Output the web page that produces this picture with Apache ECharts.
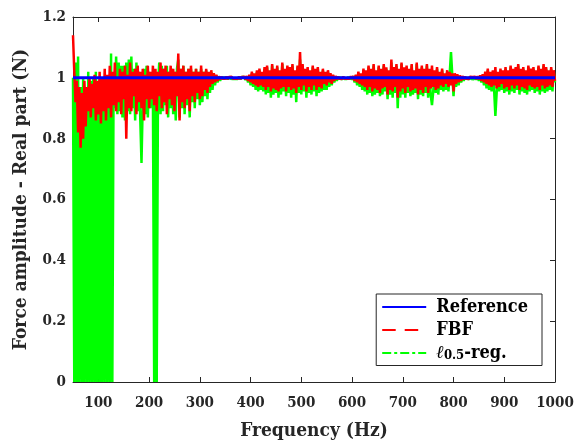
<!DOCTYPE html>
<html>
<head>
<meta charset="utf-8">
<script src="https://cdn.jsdelivr.net/npm/echarts@6/dist/echarts.min.js"></script>
<style>
html,body{margin:0;padding:0;background:#fff;}
#chart{width:583px;height:447px;}
</style>
</head>
<body>
<div id="chart"></div>
<script>
// ---- data ----
const freq = [
50,52.5,55,57.5,60,62.5,65,67.5,70,72.5,75,77.5,80,82.5,85,87.5,90,92.5,95,97.5,
100,102.5,105,107.5,110,112.5,115,117.5,120,122.5,125,127.5,130,132.5,135,137.5,140,142.5,145,147.5,
150,152.5,155,157.5,160,162.5,165,167.5,170,172.5,175,177.5,180,182.5,185,187.5,190,192.5,195,197.5,
200,202.5,205,207.5,210,212.5,215,217.5,220,222.5,225,227.5,230,232.5,235,237.5,240,242.5,245,247.5,
250,252.5,255,257.5,260,262.5,265,267.5,270,272.5,275,277.5,280,282.5,285,287.5,290,292.5,295,297.5,
300,302.5,305,307.5,310,312.5,315,317.5,320,322.5,325,327.5,330,332.5,335,337.5,340,342.5,345,347.5,
350,352.5,355,357.5,360,362.5,365,367.5,370,372.5,375,377.5,380,382.5,385,387.5,390,392.5,395,397.5,
400,402.5,405,407.5,410,412.5,415,417.5,420,422.5,425,427.5,430,432.5,435,437.5,440,442.5,445,447.5,
450,452.5,455,457.5,460,462.5,465,467.5,470,472.5,475,477.5,480,482.5,485,487.5,490,492.5,495,497.5,
500,502.5,505,507.5,510,512.5,515,517.5,520,522.5,525,527.5,530,532.5,535,537.5,540,542.5,545,547.5,
550,552.5,555,557.5,560,562.5,565,567.5,570,572.5,575,577.5,580,582.5,585,587.5,590,592.5,595,597.5,
600,602.5,605,607.5,610,612.5,615,617.5,620,622.5,625,627.5,630,632.5,635,637.5,640,642.5,645,647.5,
650,652.5,655,657.5,660,662.5,665,667.5,670,672.5,675,677.5,680,682.5,685,687.5,690,692.5,695,697.5,
700,702.5,705,707.5,710,712.5,715,717.5,720,722.5,725,727.5,730,732.5,735,737.5,740,742.5,745,747.5,
750,752.5,755,757.5,760,762.5,765,767.5,770,772.5,775,777.5,780,782.5,785,787.5,790,792.5,795,797.5,
800,802.5,805,807.5,810,812.5,815,817.5,820,822.5,825,827.5,830,832.5,835,837.5,840,842.5,845,847.5,
850,852.5,855,857.5,860,862.5,865,867.5,870,872.5,875,877.5,880,882.5,885,887.5,890,892.5,895,897.5,
900,902.5,905,907.5,910,912.5,915,917.5,920,922.5,925,927.5,930,932.5,935,937.5,940,942.5,945,947.5,
950,952.5,955,957.5,960,962.5,965,967.5,970,972.5,975,977.5,980,982.5,985,987.5,990,992.5,995,997.5,
1000
];

const refFreq = [50, 1000];
const refValues = [1, 1];

const fbfValues = [
1.14,1.02,0.92,0.99,0.82,0.97,0.77,0.95,0.80,0.99,0.84,0.97,0.89,1.00,0.87,0.98,0.90,1.01,0.86,0.99,
0.88,1.02,0.85,1.00,0.89,1.03,0.86,1.01,0.90,1.04,0.87,1.02,0.91,1.05,0.89,1.00,0.92,1.03,0.88,1.02,
0.93,1.04,0.80,1.01,0.90,1.05,0.89,1.02,0.94,1.03,0.88,1.04,0.92,1.02,0.90,1.03,0.86,1.01,0.93,1.04,
0.90,1.02,0.93,1.04,0.91,1.03,0.89,1.02,0.94,1.05,0.90,1.03,0.92,1.04,0.88,1.02,0.93,1.04,0.91,1.03,
0.89,1.02,0.94,1.08,0.86,1.03,0.92,1.04,0.90,1.02,0.93,1.03,0.89,1.04,0.94,1.02,0.92,1.03,0.95,1.02,
0.93,1.04,0.94,1.02,0.96,1.03,0.95,1.02,0.97,1.025,0.98,1.015,0.985,1.01,0.99,1.005,0.995,1.004,0.997,1.003,
0.997,1.004,0.996,1.003,0.998,1.004,0.997,1.003,0.998,1.002,0.997,1.004,0.996,1.003,0.998,1.004,0.995,1.006,0.99,1.01,
0.985,1.02,0.98,1.015,0.975,1.025,0.97,1.03,0.975,1.02,0.97,1.035,0.96,1.04,0.97,1.025,0.955,1.045,0.965,1.03,
0.96,1.04,0.955,1.025,0.965,1.05,0.97,1.03,0.955,1.04,0.97,1.035,0.96,1.045,0.965,1.025,0.95,1.04,0.97,1.085,
0.96,1.045,0.975,1.03,0.955,1.035,0.97,1.025,0.96,1.04,0.975,1.03,0.96,1.035,0.97,1.02,0.965,1.03,0.98,1.02,
0.975,1.025,0.985,1.015,0.98,1.01,0.99,1.006,0.995,1.004,0.997,1.003,0.996,1.004,0.997,1.003,0.998,1.004,0.997,1.005,
0.996,1.006,0.99,1.01,0.985,1.02,0.98,1.015,0.975,1.03,0.97,1.025,0.96,1.04,0.97,1.03,0.955,1.045,0.965,1.025,
0.96,1.04,0.95,1.03,0.965,1.045,0.97,1.035,0.945,1.025,0.96,1.06,0.955,1.035,0.97,1.045,0.935,1.03,0.955,1.05,
0.965,1.035,0.95,1.04,0.97,1.03,0.955,1.045,0.96,1.025,0.965,1.05,0.945,1.03,0.96,1.04,0.95,1.03,0.97,1.045,
0.95,1.03,0.965,1.04,0.97,1.025,0.96,1.035,0.965,1.02,0.975,1.03,0.97,1.015,0.98,1.025,0.97,1.02,0.975,1.015,
0.955,1.015,0.98,1.012,0.985,1.008,0.99,1.006,0.995,1.004,0.997,1.003,0.996,1.004,0.998,1.003,0.997,1.004,0.996,1.005,
0.995,1.008,0.99,1.012,0.985,1.02,0.98,1.03,0.975,1.02,0.97,1.025,0.975,1.035,0.965,1.02,0.97,1.03,0.98,1.025,
0.965,1.035,0.97,1.025,0.96,1.04,0.975,1.03,0.965,1.035,0.975,1.045,0.96,1.03,0.97,1.035,0.965,1.025,0.96,1.04,
0.975,1.03,0.97,1.035,0.965,1.025,0.97,1.04,0.96,1.03,0.975,1.045,0.965,1.035,0.97,1.025,0.975,1.035,0.97,1.025,
0.99
];

const l05Values = [
1.00,0.00,1.05,0.00,1.07,0.00,0.97,0.00,1.00,0.00,0.96,0.00,1.02,0.00,0.99,0.00,1.00,0.00,1.02,0.00,
0.96,0.00,0.99,0.00,1.00,0.00,0.97,0.00,0.99,0.00,1.08,0.00,1.00,0.90,1.07,0.88,1.05,0.89,1.04,0.87,
1.04,0.86,1.05,0.89,1.06,0.88,1.07,0.90,1.03,0.86,1.05,0.89,1.02,0.87,0.72,0.92,1.03,0.88,1.04,0.87,
1.02,0.90,0.99,0.95,0.00,0.98,0.00,0.97,1.05,0.88,1.04,0.89,1.03,0.91,1.04,0.87,1.02,0.90,1.03,0.88,
1.02,0.86,1.03,1.06,0.87,1.03,0.90,1.04,0.88,1.02,0.91,1.03,0.87,1.03,0.92,1.02,0.90,1.03,0.93,1.02,
0.91,1.03,0.92,1.02,0.94,1.025,0.93,1.015,0.95,1.02,0.96,1.01,0.975,1.008,0.985,1.005,0.99,1.004,0.995,1.003,
0.996,1.003,0.995,1.004,0.997,1.003,0.996,1.002,0.997,1.003,0.996,1.004,0.995,1.003,0.997,1.003,0.993,1.005,0.985,1.008,
0.975,1.015,0.97,1.01,0.96,1.02,0.955,1.025,0.96,1.015,0.955,1.03,0.945,1.035,0.95,1.02,0.935,1.04,0.945,1.025,
0.95,1.035,0.935,1.02,0.945,1.045,0.955,1.025,0.94,1.035,0.95,1.03,0.935,1.04,0.945,1.02,0.92,1.035,0.95,1.06,
0.945,1.04,0.955,1.025,0.935,1.03,0.95,1.02,0.945,1.035,0.955,1.025,0.94,1.03,0.95,1.015,0.955,1.025,0.96,1.015,
0.96,1.02,0.97,1.01,0.975,1.008,0.985,1.005,0.99,1.003,0.995,1.003,0.994,1.003,0.996,1.002,0.996,1.003,0.995,1.004,
0.994,1.005,0.985,1.008,0.975,1.015,0.97,1.01,0.96,1.025,0.955,1.02,0.945,1.035,0.95,1.025,0.94,1.04,0.945,1.02,
0.95,1.035,0.94,1.025,0.945,1.04,0.955,1.03,0.93,1.02,0.945,1.05,0.935,1.03,0.95,1.04,0.90,1.025,0.935,1.045,
0.945,1.03,0.935,1.035,0.95,1.025,0.94,1.04,0.945,1.02,0.95,1.045,0.93,1.025,0.945,1.035,0.94,1.025,0.95,1.04,
0.935,1.025,0.945,0.91,0.955,1.02,0.95,1.03,0.945,1.015,0.96,1.025,0.955,1.01,0.96,1.02,0.955,1.015,1.085,1.01,
0.94,1.01,0.97,1.008,0.975,1.005,0.985,1.004,0.99,1.003,0.995,1.002,0.994,1.003,0.996,1.002,0.995,1.003,0.994,1.004,
0.99,1.005,0.985,1.008,0.975,1.015,0.965,1.025,0.96,1.015,0.955,1.02,0.96,0.875,0.95,1.015,0.955,1.025,0.96,1.02,
0.95,1.03,0.955,1.02,0.945,1.035,0.955,1.025,0.95,1.03,0.96,1.04,0.945,1.025,0.955,1.03,0.95,1.02,0.945,1.035,
0.955,1.025,0.96,1.03,0.95,1.02,0.955,1.035,0.945,1.025,0.955,1.04,0.95,1.03,0.955,1.02,0.96,1.03,0.955,1.02,
0.985
];

const xTicks = [100,200,300,400,500,600,700,800,900,1000];

if (fbfValues.length !== freq.length || l05Values.length !== freq.length) {
  throw new Error('length mismatch ' + freq.length + ' ' + fbfValues.length + ' ' + l05Values.length);
}

// ---- chart ----
const FONT = '"DejaVu Serif Condensed", "DejaVu Serif", serif';
const AX = '#262626';
const chart = echarts.init(document.getElementById('chart'), null, {renderer: 'canvas'});

const pairs = (xs, ys) => xs.map((x, i) => [x, ys[i]]);

const xCommon = {
  type: 'value', min: 50, max: 1000,
  axisLine: {show: true, onZero: false, lineStyle: {color: AX, width: 1}},
  axisTick: {show: true, inside: true, length: 5, customValues: xTicks, lineStyle: {color: AX}},
  splitLine: {show: false}
};
const yCommon = {
  type: 'value', min: 0, max: 1.2, interval: 0.2,
  axisLine: {show: true, onZero: false, lineStyle: {color: AX, width: 1}},
  axisTick: {show: true, inside: true, length: 5, lineStyle: {color: AX}},
  splitLine: {show: false}
};

chart.setOption({
  animation: false,
  backgroundColor: '#fff',
  grid: {left: 73, right: 28, top: 17, bottom: 65},
  xAxis: [
    Object.assign({}, xCommon, {
      position: 'bottom',
      name: 'Frequency (Hz)', nameLocation: 'middle', nameGap: 40,
      nameTextStyle: {fontFamily: FONT, fontWeight: 'bold', fontSize: 19, color: AX},
      axisLabel: {show: true, customValues: xTicks, margin: 14, formatter: v => String(v),
        fontFamily: FONT, fontWeight: 'bold', fontSize: 15, color: AX}
    }),
    Object.assign({}, xCommon, {position: 'top', axisLabel: {show: false}})
  ],
  yAxis: [
    Object.assign({}, yCommon, {
      position: 'left',
      name: 'Force amplitude - Real part (N)', nameLocation: 'middle', nameGap: 42,
      nameTextStyle: {fontFamily: FONT, fontWeight: 'bold', fontSize: 19, color: AX},
      axisLabel: {show: true, margin: 7, fontFamily: FONT, fontWeight: 'bold', fontSize: 15, color: AX}
    }),
    Object.assign({}, yCommon, {position: 'right', axisLabel: {show: false}})
  ],
  legend: {
    show: true,
    data: [
      {name: 'Reference'},
      {name: 'FBF', lineStyle: {type: [13.5, 9]}},
      {name: 'l05', lineStyle: {type: [9, 3, 3, 3]}}
    ],
    orient: 'vertical',
    right: 41, top: 294,
    padding: [4, 14, 3, 5],
    itemWidth: 44, itemHeight: 12, itemGap: 5,
    itemStyle: {opacity: 0},
    borderColor: AX, borderWidth: 1, backgroundColor: '#fff',
    formatter: n => n === 'l05' ? '{i|ℓ}{s|0.5}{t|-reg.}' : n,
    textStyle: {
      fontFamily: FONT, fontWeight: 'bold', fontSize: 18, color: '#000', padding: [0, 0, 0, 5],
      rich: {
        i: {fontFamily: FONT, fontWeight: 'bold', fontStyle: 'italic', fontSize: 18, color: '#000'},
        s: {fontFamily: FONT, fontWeight: 'bold', fontSize: 13, color: '#000', padding: [6, 0, 0, 0]},
        t: {fontFamily: FONT, fontWeight: 'bold', fontSize: 18, color: '#000'}
      }
    }
  },
  series: [
    {
      name: 'l05', type: 'line', data: pairs(freq, l05Values),
      showSymbol: false, symbol: 'none', z: 2,
      lineStyle: {color: '#00ff00', width: 2.5, type: 'solid'},
      itemStyle: {color: '#00ff00'}
    },
    {
      name: 'FBF', type: 'line', data: pairs(freq, fbfValues),
      showSymbol: false, symbol: 'none', z: 3,
      lineStyle: {color: '#ff0000', width: 2.5, type: 'solid'},
      itemStyle: {color: '#ff0000'}
    },
    {
      name: 'Reference', type: 'line', data: pairs(refFreq, refValues),
      showSymbol: false, symbol: 'none', z: 4,
      lineStyle: {color: '#0000ff', width: 3, type: 'solid'},
      itemStyle: {color: '#0000ff'}
    }
  ]
});
</script>
</body>
</html>
